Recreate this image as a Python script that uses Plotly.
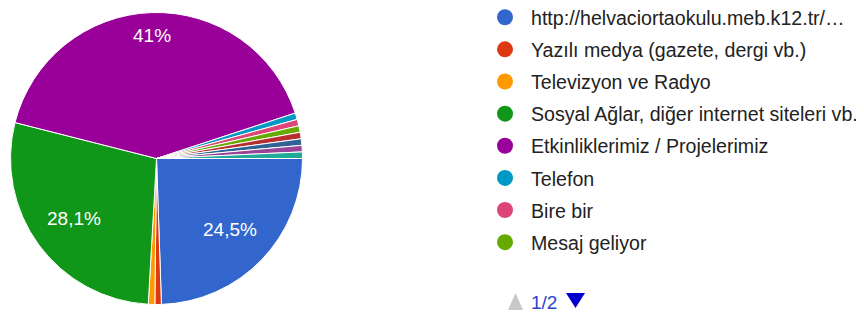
import numpy as np
import plotly.graph_objects as go

labels = [
    "http://helvaciortaokulu.meb.k12.tr/…",
    "Yazılı medya (gazete, dergi vb.)",
    "Televizyon ve Radyo",
    "Sosyal Ağlar, diğer internet siteleri vb.",
    "Etkinliklerimiz / Projelerimiz",
    "Telefon",
    "Bire bir",
    "Mesaj geliyor",
    "Diğer 1",
    "Diğer 2",
    "Diğer 3",
    "Diğer 4",
]
counts = [34, 1, 1, 39, 57, 1, 1, 1, 1, 1, 1, 1]
slice_text = ["24,5%", "", "", "28,1%", "41%", "", "", "", "", "", "", ""]
colors = ["#3366CC", "#DC3912", "#FF9900", "#109618", "#990099", "#0099C6",
          "#DD4477", "#66AA00", "#B82E2E", "#316395", "#994499", "#22AA99"]
legend_count = 8
page_text = "1/2"

W, H = 864, 316
# page body has an 8px margin, so figure pixel coords = screen - 8
CX, CY, R = 148.5, 150.5, 146.0
FONT = "Arial, Liberation Sans, sans-serif"


def px2paper(x, y):
    return x / W, 1 - y / H


fig = go.Figure()
fig.add_trace(go.Pie(
    labels=labels, values=counts, textinfo="none",
    sort=False, direction="clockwise", rotation=90,
    marker=dict(colors=colors, line=dict(color="white", width=1)),
    domain=dict(x=[(CX - R) / W, (CX + R) / W], y=[1 - (CY + R) / H, 1 - (CY - R) / H]),
    showlegend=False, hoverinfo="label+percent",
))
for i in range(legend_count):
    fig.add_trace(go.Scatter(
        x=[None], y=[None], mode="markers", name=labels[i],
        marker=dict(color=colors[i], size=16, symbol="circle"),
        legendgroup=f"g{i}", showlegend=True,
    ))

# slice labels placed along each slice's mid angle (derived from the counts)
annotations = []
vals = np.array(counts, dtype=float)
cum = np.cumsum(vals) - vals / 2
mid = cum / vals.sum() * 2 * np.pi  # clockwise from 3 o'clock
for i, t in enumerate(slice_text):
    if not t:
        continue
    frac = 0.84 if vals[i] / vals.sum() > 0.35 else 0.70
    ax, ay = px2paper(CX + frac * R * np.cos(mid[i]), CY + frac * R * np.sin(mid[i]))
    annotations.append(dict(x=ax, y=ay, xref="paper", yref="paper",
                            xanchor="center", yanchor="middle",
                            text=t, showarrow=False,
                            font=dict(size=19, color="white", family=FONT)))

# pager "▲ 1/2 ▼"
tx, ty = px2paper(535.5, 294)
annotations.append(dict(x=tx, y=ty, xref="paper", yref="paper", text=page_text,
                        xanchor="center", yanchor="middle", showarrow=False,
                        font=dict(size=19, color="#2A44CC", family=FONT)))


def tri(points, color):
    pts = [px2paper(x, y) for x, y in points]
    path = "M " + " L ".join(f"{x:.5f},{y:.5f}" for x, y in pts) + " Z"
    return dict(type="path", xref="paper", yref="paper", path=path,
                fillcolor=color, line=dict(width=0))


shapes = [
    tri([(500, 302), (515, 302), (507.5, 285)], "#C8C8C8"),
    tri([(558, 285), (577, 285), (567.5, 300)], "#0000CC"),
]

fig.update_layout(
    width=W, height=H,
    margin=dict(l=0, r=0, t=0, b=0, autoexpand=False),
    paper_bgcolor="white", plot_bgcolor="white",
    xaxis=dict(visible=False), yaxis=dict(visible=False),
    legend=dict(x=471 / W, y=1 + 10 / H, xanchor="left", yanchor="top",
                font=dict(size=19.6, color="#222222", family=FONT),
                tracegroupgap=3.65, itemsizing="trace", itemwidth=42,
                maxheight=400, bgcolor="rgba(0,0,0,0)"),
    annotations=annotations,
    shapes=shapes,
)
fig.write_html("out.html")
